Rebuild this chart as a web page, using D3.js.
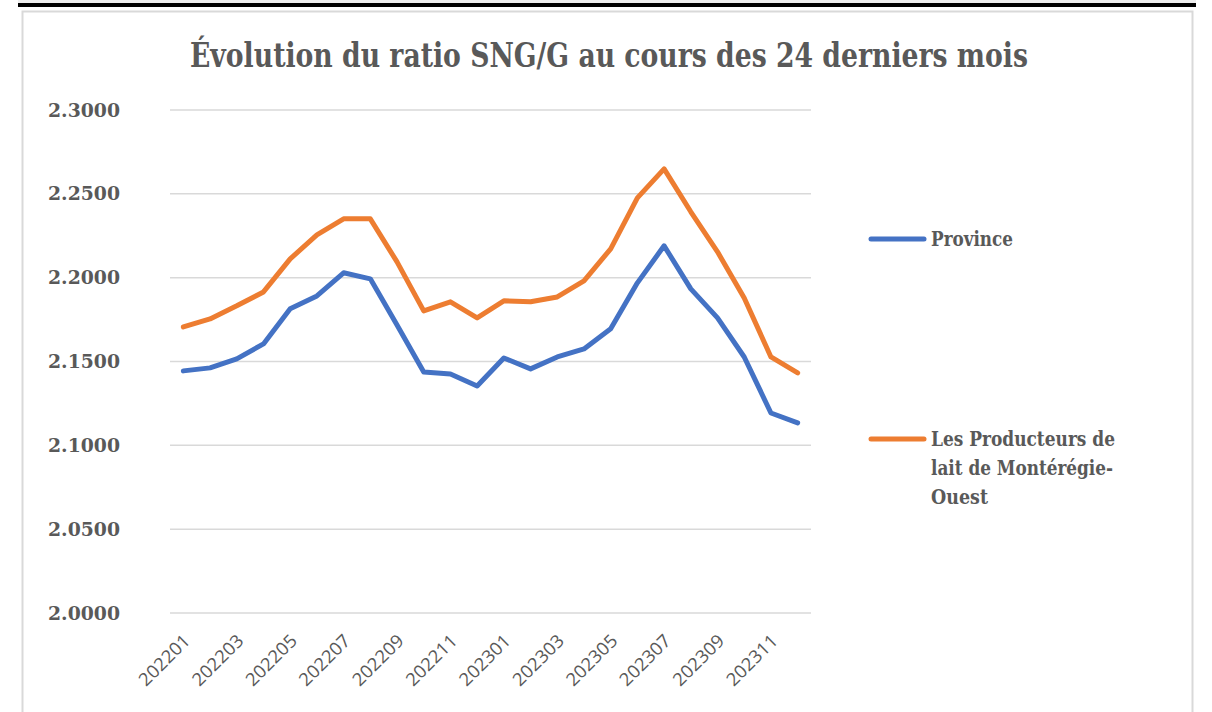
<!DOCTYPE html>
<html>
<head>
<meta charset="utf-8">
<script src="https://cdn.jsdelivr.net/npm/d3@7"></script>
<style>
  body { margin: 0; background: #fff; }
  svg { display: block; }
</style>
</head>
<body>
<div id="chartDiv"></div>
<script>
const months = ["202201","202202","202203","202204","202205","202206","202207","202208","202209","202210","202211","202212",
                "202301","202302","202303","202304","202305","202306","202307","202308","202309","202310","202311","202312"];
const province = [2.1444,2.1462,2.1516,2.1605,2.1814,2.1891,2.2029,2.1993,2.1718,2.1438,2.1426,2.1354,
                  2.1521,2.1456,2.1527,2.1575,2.1695,2.1969,2.2190,2.1933,2.1760,2.1527,2.1193,2.1134];
const monteregie = [2.1706,2.1754,2.1832,2.1915,2.2112,2.2255,2.2351,2.2351,2.2094,2.1802,2.1856,2.1760,
                    2.1862,2.1856,2.1885,2.1981,2.2172,2.2476,2.2649,2.2393,2.2154,2.1879,2.1527,2.1432];
const yTicks = [2.0, 2.05, 2.1, 2.15, 2.2, 2.25, 2.3];
const seriesNames = ["Province", "Les Producteurs de lait de Montérégie-Ouest"];
const colors = ["#4472c4", "#ed7d31"];

const width = 1212, height = 712;
const margin = {top: 110, right: 401, bottom: 99, left: 170};

const svg = d3.select("#chartDiv").append("svg")
    .attr("width", width).attr("height", height);

// top black rule and chart frame
svg.append("rect").attr("x", 18).attr("y", 0).attr("width", 1178).attr("height", 3).attr("fill", "#eeeeee");
svg.append("rect").attr("x", 18).attr("y", 3).attr("width", 1178).attr("height", 4).attr("fill", "#000");
svg.append("path")
    .attr("d", `M22.5,${height} V11.5 H1192.5 V${height}`)
    .attr("fill", "none").attr("stroke", "#d9d9d9").attr("stroke-width", 2);

const x = d3.scalePoint(months, [margin.left, width - margin.right]).padding(0.5);
const y = d3.scaleLinear([2.0, 2.3], [height - margin.bottom, margin.top]);

// gridlines
svg.append("g")
    .selectAll("line")
    .data(yTicks)
    .join("line")
    .attr("x1", margin.left).attr("x2", width - margin.right)
    .attr("y1", d => y(d)).attr("y2", d => y(d))
    .attr("stroke", "#d9d9d9").attr("stroke-width", 1.5);

// y labels
svg.append("g")
    .selectAll("text")
    .data(yTicks)
    .join("text")
    .attr("x", 120).attr("y", d => y(d))
    .attr("dy", "0.35em")
    .attr("text-anchor", "end")
    .attr("font-family", "DejaVu Serif")
    .attr("font-weight", "bold")
    .attr("font-size", 19)
    .attr("fill", "#595959")
    .attr("textLength", 72)
    .attr("lengthAdjust", "spacingAndGlyphs")
    .text(d => d3.format(".4f")(d));

// x labels every other month
svg.append("g")
    .selectAll("text")
    .data(months.filter((d, i) => i % 2 === 0))
    .join("text")
    .attr("transform", d => `translate(${x(d) + 8},${y(2.0) + 29}) rotate(-45)`)
    .attr("text-anchor", "end")
    .attr("font-family", "Open Sans")
    .attr("font-size", 18)
    .attr("fill", "#595959")
    .attr("textLength", 64)
    .attr("lengthAdjust", "spacingAndGlyphs")
    .text(d => d);

// lines
const line = d3.line()
    .x((d, i) => x(months[i]))
    .y(d => y(d));

svg.append("g")
    .attr("fill", "none")
    .attr("stroke-width", 5)
    .attr("stroke-linejoin", "round")
    .attr("stroke-linecap", "round")
    .selectAll("path")
    .data([province, monteregie])
    .join("path")
    .attr("stroke", (d, i) => colors[i])
    .attr("d", line);

// title
svg.append("text")
    .attr("x", 609).attr("y", 67)
    .attr("text-anchor", "middle")
    .attr("font-family", "DejaVu Serif Condensed, DejaVu Serif")
    .attr("font-stretch", "condensed")
    .attr("font-weight", "bold")
    .attr("font-size", 34)
    .attr("fill", "#595959")
    .attr("textLength", 838)
    .attr("lengthAdjust", "spacingAndGlyphs")
    .text("Évolution du ratio SNG/G au cours des 24 derniers mois");

// legend
const legendRows = [
  {y: 239, lines: ["Province"], widths: [82]},
  {y: 439, lines: ["Les Producteurs de", "lait de Montérégie-", "Ouest"], widths: [184, 182, 57]}
];
const lg = svg.append("g");
legendRows.forEach((row, i) => {
  lg.append("line")
    .attr("x1", 871).attr("x2", 924)
    .attr("y1", row.y).attr("y2", row.y)
    .attr("stroke", colors[i]).attr("stroke-width", 5)
    .attr("stroke-linecap", "round");
  row.lines.forEach((t, j) => {
    lg.append("text")
      .attr("x", 931).attr("y", row.y + j * 29)
      .attr("dy", "0.35em")
      .attr("font-family", "DejaVu Serif Condensed, DejaVu Serif")
      .attr("font-stretch", "condensed")
      .attr("font-weight", "bold")
      .attr("font-size", 20)
      .attr("fill", "#595959")
      .attr("textLength", row.widths[j])
      .attr("lengthAdjust", "spacingAndGlyphs")
      .text(t);
  });
});
</script>
</body>
</html>
